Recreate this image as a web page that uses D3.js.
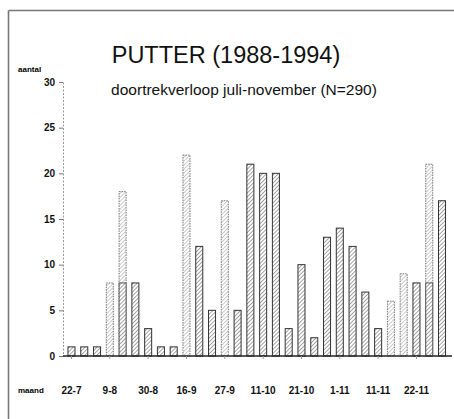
<!DOCTYPE html>
<html>
<head>
<meta charset="utf-8">
<script src="https://cdn.jsdelivr.net/npm/d3@7"></script>
<style>
body { margin: 0; background: #fff; }
text { font-family: "Liberation Sans", Arial, sans-serif; }
</style>
</head>
<body>
<div id="chart"></div>
<script>
// data
var periods = d3.range(1, 31);
var counts = [1, 1, 1, 8, 18, 8, 3, 1, 1, 22, 12, 5, 17, 5, 21,
              20, 20, 3, 10, 2, 13, 14, 12, 7, 3, 6, 9, 8, 21, 17];
var tickLabels = ['22-7', '9-8', '30-8', '16-9', '27-9', '11-10', '21-10', '1-11', '11-11', '22-11'];
var yTicks = [0, 5, 10, 15, 20, 25, 30];

// bars that print lighter in the scan (index -> darker lower part, if any)
var lightBars = {3: 0, 4: 8, 9: 0, 12: 0, 25: 0, 26: 0, 28: 8};

var W = 454, H = 419;
var svg = d3.select('#chart').append('svg')
  .attr('width', W).attr('height', H);

var defs = svg.append('defs');
function hatch(id, color, w) {
  var p = defs.append('pattern')
    .attr('id', id).attr('patternUnits', 'userSpaceOnUse')
    .attr('width', 2.8).attr('height', 2.8)
    .attr('patternTransform', 'rotate(45)');
  p.append('rect').attr('width', 2.8).attr('height', 2.8).attr('fill', '#fff');
  p.append('line').attr('x1', 0).attr('y1', 0).attr('x2', 0).attr('y2', 2.8)
    .attr('stroke', color).attr('stroke-width', w);
}
hatch('dark', '#5a5a5a', 1.1);
hatch('light', '#9a9a9a', 1);

// frame (top + left only, as in the scan)
svg.append('line').attr('x1', 8.5).attr('x2', W).attr('y1', 10.5).attr('y2', 10.5)
  .attr('stroke', '#777').attr('stroke-width', 1.6);
svg.append('line').attr('x1', 8.5).attr('x2', 8.5).attr('y1', 10.5).attr('y2', H)
  .attr('stroke', '#777').attr('stroke-width', 1.6);

var x = d3.scaleBand()
  .domain(periods)
  .range([63.5, 450])
  .paddingInner(0.45)
  .paddingOuter(0.35);

var y = d3.scaleLinear()
  .domain([0, 30])
  .range([356, 82]);

// y axis
var yAxis = svg.append('g')
  .attr('transform', 'translate(63,0)')
  .call(d3.axisLeft(y).tickValues(yTicks).tickSize(4).tickPadding(4));
yAxis.select('.domain').attr('stroke', '#999').attr('stroke-dasharray', '2,1.5');
yAxis.selectAll('.tick line').attr('stroke', '#777');
yAxis.selectAll('.tick text')
  .attr('font-size', 10).attr('font-weight', 'bold').attr('fill', '#111')
  .attr('font-family', '"Liberation Sans", Arial, sans-serif');

// bars
svg.selectAll('rect.bar')
  .data(counts)
  .enter()
  .append('rect')
  .attr('class', 'bar')
  .attr('x', function(d, i) { return x(periods[i]); })
  .attr('y', function(d) { return y(d); })
  .attr('width', x.bandwidth())
  .attr('height', function(d) { return y(0) - y(d); })
  .attr('fill', function(d, i) { return (i in lightBars) ? 'url(#light)' : 'url(#dark)'; })
  .attr('stroke', function(d, i) { return (i in lightBars) ? '#777' : '#333'; })
  .attr('stroke-dasharray', function(d, i) { return (i in lightBars) ? '1.5,1' : null; })
  .attr('stroke-width', 1);

// darker lower part of some light bars
Object.keys(lightBars).forEach(function(k) {
  var v = lightBars[k];
  if (!v) return;
  svg.append('rect')
    .attr('x', x(periods[+k]))
    .attr('y', y(v))
    .attr('width', x.bandwidth())
    .attr('height', y(0) - y(v))
    .attr('fill', 'url(#dark)')
    .attr('stroke', '#555').attr('stroke-width', 1);
});

// x axis
var labelled = periods.filter(function(d, i) { return i % 3 === 0; });
var xAxis = svg.append('g')
  .attr('transform', 'translate(0,356)')
  .call(d3.axisBottom(x).tickValues(labelled)
    .tickFormat(function(d, i) { return tickLabels[i]; })
    .tickSize(3).tickPadding(28).tickSizeOuter(0));
xAxis.select('.domain').attr('d', 'M63,0H452').attr('stroke', '#222').attr('stroke-width', 1.6);
xAxis.selectAll('.tick line').attr('stroke', '#999');
xAxis.selectAll('.tick text')
  .attr('font-size', 10).attr('font-weight', 'bold').attr('fill', '#111')
  .attr('font-family', '"Liberation Sans", Arial, sans-serif');

// axis names
svg.append('text').attr('x', 18).attr('y', 72)
  .attr('font-size', 8).attr('font-weight', 'bold').text('aantal');
svg.append('text').attr('x', 18).attr('y', 393)
  .attr('font-size', 8).attr('font-weight', 'bold').text('maand');

// titles
svg.append('text').attr('x', 226).attr('y', 63).attr('text-anchor', 'middle')
  .attr('font-size', 23.5).attr('fill', '#111').text('PUTTER (1988-1994)');
svg.append('text').attr('x', 244).attr('y', 95).attr('text-anchor', 'middle')
  .attr('font-size', 15.5).attr('fill', '#111').text('doortrekverloop juli-november (N=290)');
</script>
</body>
</html>
